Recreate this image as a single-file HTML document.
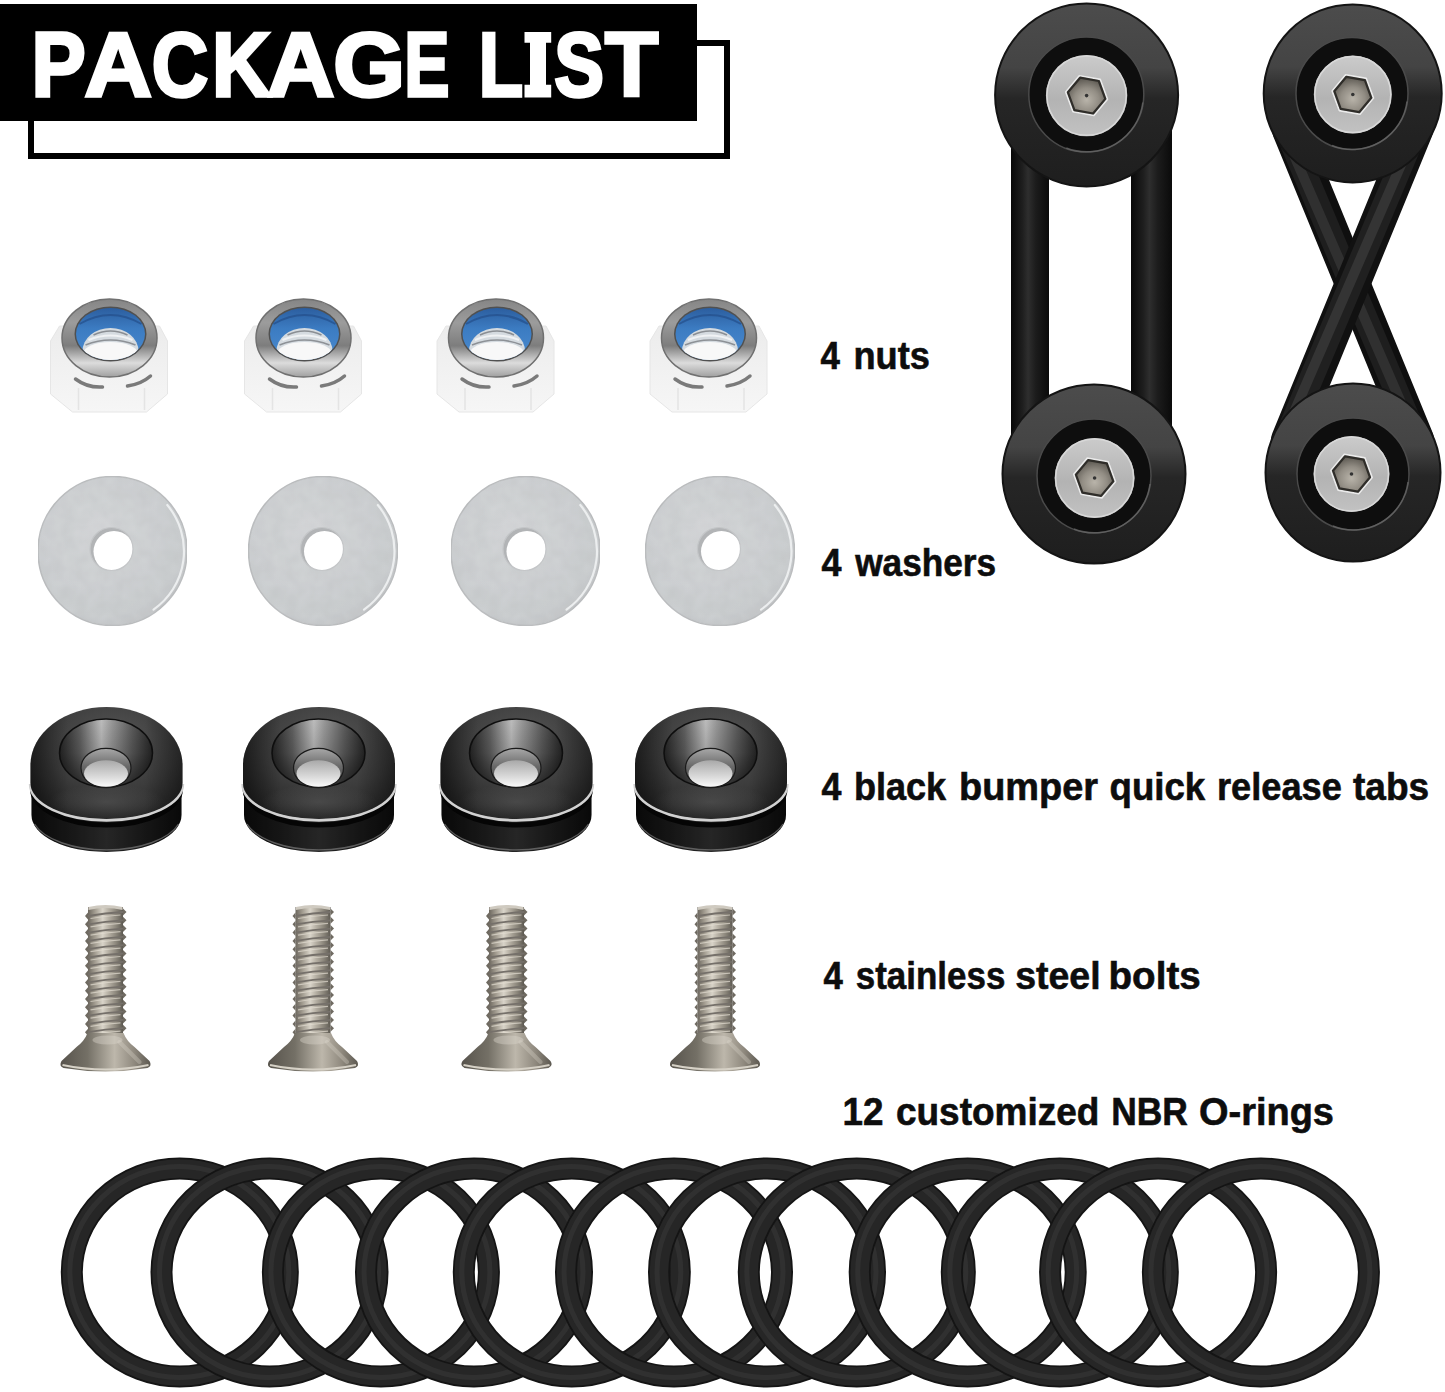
<!DOCTYPE html>
<html><head><meta charset="utf-8"><title>Package List</title>
<style>
html,body{margin:0;padding:0;background:#fff;}
body{width:1445px;height:1392px;overflow:hidden;font-family:"Liberation Sans", sans-serif;}
svg{display:block;}
</style></head><body>
<svg width="1445" height="1392" viewBox="0 0 1445 1392">
<rect width="1445" height="1392" fill="#fff"/>

<defs>
  <filter id="grain" x="0" y="0" width="100%" height="100%">
    <feTurbulence type="fractalNoise" baseFrequency="0.08" numOctaves="2" seed="3" result="n"/>
    <feColorMatrix in="n" type="matrix" values="0 0 0 0 0  0 0 0 0 0  0 0 0 0 0  0 0 0 0.10 0" result="na"/>
    <feComposite in="na" in2="SourceGraphic" operator="in" result="nm"/>
    <feMerge><feMergeNode in="SourceGraphic"/><feMergeNode in="nm"/></feMerge>
  </filter>
  <linearGradient id="nutRing" x1="0" y1="0" x2="0" y2="1">
    <stop offset="0" stop-color="#858585"/>
    <stop offset="0.3" stop-color="#9c9c9c"/>
    <stop offset="0.6" stop-color="#7d7d7d"/>
    <stop offset="0.82" stop-color="#dcdcdc"/>
    <stop offset="1" stop-color="#a0a0a0"/>
  </linearGradient>
  <linearGradient id="blue" x1="0" y1="0" x2="0" y2="1">
    <stop offset="0" stop-color="#2c5e9f"/>
    <stop offset="0.4" stop-color="#3c7cc2"/>
    <stop offset="1" stop-color="#4a8bcf"/>
  </linearGradient>
  <linearGradient id="hexBody" x1="0" y1="0" x2="0" y2="1">
    <stop offset="0" stop-color="#ececec"/>
    <stop offset="1" stop-color="#f6f6f6"/>
  </linearGradient>
  <radialGradient id="washer" cx="0.42" cy="0.38" r="0.7">
    <stop offset="0" stop-color="#d6d8da"/>
    <stop offset="0.8" stop-color="#cdd0d2"/>
    <stop offset="1" stop-color="#c4c6c8"/>
  </radialGradient>
  <linearGradient id="tabSide" x1="0" y1="0" x2="1" y2="0">
    <stop offset="0" stop-color="#0b0b0b"/>
    <stop offset="0.25" stop-color="#1c1c1c"/>
    <stop offset="0.5" stop-color="#303030"/>
    <stop offset="0.75" stop-color="#1c1c1c"/>
    <stop offset="1" stop-color="#0b0b0b"/>
  </linearGradient>
  <linearGradient id="tabFace" x1="0" y1="0" x2="0" y2="1">
    <stop offset="0" stop-color="#454545"/>
    <stop offset="0.45" stop-color="#2b2b2b"/>
    <stop offset="1" stop-color="#222"/>
  </linearGradient>
  <linearGradient id="tabFaceH" x1="0" y1="0" x2="1" y2="0">
    <stop offset="0" stop-color="#000" stop-opacity="0.45"/>
    <stop offset="0.25" stop-color="#000" stop-opacity="0"/>
    <stop offset="0.75" stop-color="#000" stop-opacity="0"/>
    <stop offset="1" stop-color="#000" stop-opacity="0.4"/>
  </linearGradient>
  <radialGradient id="tabTop" cx="0.55" cy="0.3" r="0.8">
    <stop offset="0" stop-color="#555"/>
    <stop offset="0.55" stop-color="#3c3c3c"/>
    <stop offset="1" stop-color="#1e1e1e"/>
  </radialGradient>
  <radialGradient id="frontGlow" cx="0.5" cy="0.5" r="0.5">
    <stop offset="0" stop-color="#5a5a5a" stop-opacity="0.55"/>
    <stop offset="1" stop-color="#5a5a5a" stop-opacity="0"/>
  </radialGradient>
  <linearGradient id="csink" x1="0" y1="0" x2="1" y2="0">
    <stop offset="0" stop-color="#262626"/>
    <stop offset="0.22" stop-color="#606060"/>
    <stop offset="0.45" stop-color="#bdbdbd"/>
    <stop offset="0.56" stop-color="#999"/>
    <stop offset="0.78" stop-color="#5c5c5c"/>
    <stop offset="1" stop-color="#262626"/>
  </linearGradient>
  <linearGradient id="csinkV" x1="0" y1="0" x2="0" y2="1">
    <stop offset="0" stop-color="#000" stop-opacity="0"/>
    <stop offset="0.5" stop-color="#000" stop-opacity="0.15"/>
    <stop offset="1" stop-color="#000" stop-opacity="0.6"/>
  </linearGradient>
  <linearGradient id="holeRim" x1="0" y1="0" x2="0" y2="1">
    <stop offset="0" stop-color="#a8a8a8"/>
    <stop offset="0.45" stop-color="#6a6a6a"/>
    <stop offset="1" stop-color="#3a3a3a"/>
  </linearGradient>
  <linearGradient id="thru" x1="0" y1="0" x2="0" y2="1">
    <stop offset="0" stop-color="#a9a9a9"/>
    <stop offset="0.6" stop-color="#d8d8d8"/>
    <stop offset="1" stop-color="#fafafa"/>
  </linearGradient>
  <linearGradient id="boltShaft" x1="0" y1="0" x2="1" y2="0">
    <stop offset="0" stop-color="#6c675e"/>
    <stop offset="0.2" stop-color="#a29c90"/>
    <stop offset="0.42" stop-color="#d9d4c9"/>
    <stop offset="0.6" stop-color="#b3ada1"/>
    <stop offset="0.8" stop-color="#8c877c"/>
    <stop offset="1" stop-color="#5e5a52"/>
  </linearGradient>
  <linearGradient id="boltHead" x1="0" y1="0" x2="1" y2="0">
    <stop offset="0" stop-color="#57534c"/>
    <stop offset="0.3" stop-color="#747066"/>
    <stop offset="0.6" stop-color="#bdb7ab"/>
    <stop offset="0.82" stop-color="#8f897e"/>
    <stop offset="1" stop-color="#5c5850"/>
  </linearGradient>
  <linearGradient id="discFace" x1="0" y1="0" x2="0" y2="1">
    <stop offset="0" stop-color="#4c4c4c"/>
    <stop offset="0.35" stop-color="#444"/>
    <stop offset="0.52" stop-color="#262626"/>
    <stop offset="0.75" stop-color="#222"/>
    <stop offset="1" stop-color="#1e1e1e"/>
  </linearGradient>
  <linearGradient id="head" x1="0" y1="0" x2="0" y2="1">
    <stop offset="0" stop-color="#cbcbcb"/>
    <stop offset="0.55" stop-color="#b3b3b3"/>
    <stop offset="1" stop-color="#c2c2c2"/>
  </linearGradient>
  <radialGradient id="socket" cx="0.5" cy="0.62" r="0.6">
    <stop offset="0" stop-color="#b9b4aa"/>
    <stop offset="0.55" stop-color="#928d84"/>
    <stop offset="1" stop-color="#5e5a53"/>
  </radialGradient>
  <linearGradient id="strandV" x1="0" y1="0" x2="1" y2="0">
    <stop offset="0" stop-color="#080808"/>
    <stop offset="0.3" stop-color="#1e1e1e"/>
    <stop offset="0.45" stop-color="#2e2e2e"/>
    <stop offset="0.65" stop-color="#1c1c1c"/>
    <stop offset="1" stop-color="#0a0a0a"/>
  </linearGradient>
<clipPath id="nutIn"><ellipse cx="1" cy="-4" rx="34.5" ry="26"/></clipPath>
<clipPath id="wHole"><circle cx="-1" cy="-2" r="21.5"/></clipPath>
</defs>
<rect x="31" y="43" width="696" height="113" fill="none" stroke="#000" stroke-width="6"/><rect x="0" y="4" width="697" height="117" fill="#000"/><text transform="translate(31.43,95.8) scale(0.9007,1)" x="0" y="0" font-family="Liberation Sans" font-weight="bold" font-size="90.3" fill="#fff" stroke="#fff" stroke-width="3.4">P</text><text transform="translate(84.47,95.8) scale(1.0331,1)" x="0" y="0" font-family="Liberation Sans" font-weight="bold" font-size="90.3" fill="#fff" stroke="#fff" stroke-width="3.4">A</text><text transform="translate(151.65,95.8) scale(0.8664,1)" x="0" y="0" font-family="Liberation Sans" font-weight="bold" font-size="90.3" fill="#fff" stroke="#fff" stroke-width="3.4">C</text><text transform="translate(211.93,95.8) scale(0.9022,1)" x="0" y="0" font-family="Liberation Sans" font-weight="bold" font-size="90.3" fill="#fff" stroke="#fff" stroke-width="3.4">K</text><text transform="translate(267.07,95.8) scale(1.0346,1)" x="0" y="0" font-family="Liberation Sans" font-weight="bold" font-size="90.3" fill="#fff" stroke="#fff" stroke-width="3.4">A</text><text transform="translate(333.23,95.8) scale(1.0220,1)" x="0" y="0" font-family="Liberation Sans" font-weight="bold" font-size="90.3" fill="#fff" stroke="#fff" stroke-width="3.4">G</text><text transform="translate(404.21,95.8) scale(0.7508,1)" x="0" y="0" font-family="Liberation Sans" font-weight="bold" font-size="90.3" fill="#fff" stroke="#fff" stroke-width="3.4">E</text><text transform="translate(478.87,95.8) scale(0.8039,1)" x="0" y="0" font-family="Liberation Sans" font-weight="bold" font-size="90.3" fill="#fff" stroke="#fff" stroke-width="3.4">L</text><text transform="translate(554.25,95.8) scale(0.8262,1)" x="0" y="0" font-family="Liberation Sans" font-weight="bold" font-size="90.3" fill="#fff" stroke="#fff" stroke-width="3.4">S</text><text transform="translate(605.00,95.8) scale(0.9658,1)" x="0" y="0" font-family="Liberation Sans" font-weight="bold" font-size="90.3" fill="#fff" stroke="#fff" stroke-width="3.4">T</text><path d="M524.5,32 H551.2 V42.8 H546 V84.8 H551.2 V97.4 H524.5 V84.8 H530 V42.8 H524.5 Z" fill="#fff"/><text transform="translate(820.40,369.0) scale(0.9187,1)" x="0" y="0" font-family="Liberation Sans" font-weight="bold" font-size="38" fill="#0d0d0d" stroke="#0d0d0d" stroke-width="0.6">4</text><text transform="translate(853.49,369.0) scale(0.9528,1)" x="0" y="0" font-family="Liberation Sans" font-weight="bold" font-size="38" fill="#0d0d0d" stroke="#0d0d0d" stroke-width="0.6">nuts</text><text transform="translate(821.40,575.6) scale(0.9464,1)" x="0" y="0" font-family="Liberation Sans" font-weight="bold" font-size="38" fill="#0d0d0d" stroke="#0d0d0d" stroke-width="0.6">4</text><text transform="translate(855.20,575.6) scale(0.9270,1)" x="0" y="0" font-family="Liberation Sans" font-weight="bold" font-size="38" fill="#0d0d0d" stroke="#0d0d0d" stroke-width="0.6">washers</text><text transform="translate(821.40,800.4) scale(0.9418,1)" x="0" y="0" font-family="Liberation Sans" font-weight="bold" font-size="38" fill="#0d0d0d" stroke="#0d0d0d" stroke-width="0.6">4</text><text transform="translate(854.00,800.4) scale(0.9486,1)" x="0" y="0" font-family="Liberation Sans" font-weight="bold" font-size="38" fill="#0d0d0d" stroke="#0d0d0d" stroke-width="0.6">black</text><text transform="translate(959.00,800.4) scale(0.9981,1)" x="0" y="0" font-family="Liberation Sans" font-weight="bold" font-size="38" fill="#0d0d0d" stroke="#0d0d0d" stroke-width="0.6">bumper</text><text transform="translate(1109.50,800.4) scale(0.9646,1)" x="0" y="0" font-family="Liberation Sans" font-weight="bold" font-size="38" fill="#0d0d0d" stroke="#0d0d0d" stroke-width="0.6">quick</text><text transform="translate(1216.99,800.4) scale(0.9530,1)" x="0" y="0" font-family="Liberation Sans" font-weight="bold" font-size="38" fill="#0d0d0d" stroke="#0d0d0d" stroke-width="0.6">release</text><text transform="translate(1353.00,800.4) scale(0.9749,1)" x="0" y="0" font-family="Liberation Sans" font-weight="bold" font-size="38" fill="#0d0d0d" stroke="#0d0d0d" stroke-width="0.6">tabs</text><text transform="translate(823.50,989.1) scale(0.9141,1)" x="0" y="0" font-family="Liberation Sans" font-weight="bold" font-size="38" fill="#0d0d0d" stroke="#0d0d0d" stroke-width="0.6">4</text><text transform="translate(855.80,989.1) scale(0.9195,1)" x="0" y="0" font-family="Liberation Sans" font-weight="bold" font-size="38" fill="#0d0d0d" stroke="#0d0d0d" stroke-width="0.6">stainless</text><text transform="translate(1015.25,989.1) scale(0.9856,1)" x="0" y="0" font-family="Liberation Sans" font-weight="bold" font-size="38" fill="#0d0d0d" stroke="#0d0d0d" stroke-width="0.6">steel</text><text transform="translate(1108.57,989.1) scale(1.0150,1)" x="0" y="0" font-family="Liberation Sans" font-weight="bold" font-size="38" fill="#0d0d0d" stroke="#0d0d0d" stroke-width="0.6">bolts</text><text transform="translate(842.46,1124.6) scale(0.9691,1)" x="0" y="0" font-family="Liberation Sans" font-weight="bold" font-size="38" fill="#0d0d0d" stroke="#0d0d0d" stroke-width="0.6">12</text><text transform="translate(895.96,1124.6) scale(0.9732,1)" x="0" y="0" font-family="Liberation Sans" font-weight="bold" font-size="38" fill="#0d0d0d" stroke="#0d0d0d" stroke-width="0.6">customized</text><text transform="translate(1111.13,1124.6) scale(0.9322,1)" x="0" y="0" font-family="Liberation Sans" font-weight="bold" font-size="38" fill="#0d0d0d" stroke="#0d0d0d" stroke-width="0.6">NBR</text><text transform="translate(1199.06,1124.6) scale(0.9985,1)" x="0" y="0" font-family="Liberation Sans" font-weight="bold" font-size="38" fill="#0d0d0d" stroke="#0d0d0d" stroke-width="0.6">O-rings</text><g transform="translate(109.5,338)"><path d="M-59,3 L-50,-12 L50,-12 L58,3 L58,56 L37,74 L-37,74 L-59,56 Z" fill="url(#hexBody)" stroke="#e6e6e6" stroke-width="1"/><path d="M-31,50 L-31,72 M35,50 L35,72" stroke="#e4e4e4" stroke-width="1.5"/><path d="M-34,41 Q-22,50 -7,49" fill="none" stroke="#7a7a7a" stroke-width="3.5" stroke-linecap="round"/><path d="M18,48 Q32,46 41,38" fill="none" stroke="#7a7a7a" stroke-width="3.5" stroke-linecap="round"/><ellipse cx="0" cy="0" rx="47.5" ry="39" fill="url(#nutRing)" stroke="#707070" stroke-width="1.5"/><ellipse cx="1" cy="-4" rx="36" ry="27.5" fill="#505050"/><ellipse cx="1" cy="-4" rx="34.5" ry="26" fill="url(#blue)"/><g clip-path="url(#nutIn)"><ellipse cx="1" cy="13" rx="28" ry="23" fill="#d5dbe0"/><path d="M-16,-3 Q1,-11 18,-3" fill="none" stroke="#8a8e93" stroke-width="1.6"/><path d="M-21,2 Q1,-7 23,2" fill="none" stroke="#f0f2f4" stroke-width="2"/><path d="M-24,7 Q1,-3 26,7" fill="none" stroke="#8d9196" stroke-width="1.6"/><ellipse cx="1" cy="15" rx="27" ry="11" fill="#f8f8f8"/></g><path d="M-30,-14 Q1,-32 32,-14" fill="none" stroke="#234f8a" stroke-width="2" opacity="0.7"/></g><g transform="translate(303.5,338)"><path d="M-59,3 L-50,-12 L50,-12 L58,3 L58,56 L37,74 L-37,74 L-59,56 Z" fill="url(#hexBody)" stroke="#e6e6e6" stroke-width="1"/><path d="M-31,50 L-31,72 M35,50 L35,72" stroke="#e4e4e4" stroke-width="1.5"/><path d="M-34,41 Q-22,50 -7,49" fill="none" stroke="#7a7a7a" stroke-width="3.5" stroke-linecap="round"/><path d="M18,48 Q32,46 41,38" fill="none" stroke="#7a7a7a" stroke-width="3.5" stroke-linecap="round"/><ellipse cx="0" cy="0" rx="47.5" ry="39" fill="url(#nutRing)" stroke="#707070" stroke-width="1.5"/><ellipse cx="1" cy="-4" rx="36" ry="27.5" fill="#505050"/><ellipse cx="1" cy="-4" rx="34.5" ry="26" fill="url(#blue)"/><g clip-path="url(#nutIn)"><ellipse cx="1" cy="13" rx="28" ry="23" fill="#d5dbe0"/><path d="M-16,-3 Q1,-11 18,-3" fill="none" stroke="#8a8e93" stroke-width="1.6"/><path d="M-21,2 Q1,-7 23,2" fill="none" stroke="#f0f2f4" stroke-width="2"/><path d="M-24,7 Q1,-3 26,7" fill="none" stroke="#8d9196" stroke-width="1.6"/><ellipse cx="1" cy="15" rx="27" ry="11" fill="#f8f8f8"/></g><path d="M-30,-14 Q1,-32 32,-14" fill="none" stroke="#234f8a" stroke-width="2" opacity="0.7"/></g><g transform="translate(496,338)"><path d="M-59,3 L-50,-12 L50,-12 L58,3 L58,56 L37,74 L-37,74 L-59,56 Z" fill="url(#hexBody)" stroke="#e6e6e6" stroke-width="1"/><path d="M-31,50 L-31,72 M35,50 L35,72" stroke="#e4e4e4" stroke-width="1.5"/><path d="M-34,41 Q-22,50 -7,49" fill="none" stroke="#7a7a7a" stroke-width="3.5" stroke-linecap="round"/><path d="M18,48 Q32,46 41,38" fill="none" stroke="#7a7a7a" stroke-width="3.5" stroke-linecap="round"/><ellipse cx="0" cy="0" rx="47.5" ry="39" fill="url(#nutRing)" stroke="#707070" stroke-width="1.5"/><ellipse cx="1" cy="-4" rx="36" ry="27.5" fill="#505050"/><ellipse cx="1" cy="-4" rx="34.5" ry="26" fill="url(#blue)"/><g clip-path="url(#nutIn)"><ellipse cx="1" cy="13" rx="28" ry="23" fill="#d5dbe0"/><path d="M-16,-3 Q1,-11 18,-3" fill="none" stroke="#8a8e93" stroke-width="1.6"/><path d="M-21,2 Q1,-7 23,2" fill="none" stroke="#f0f2f4" stroke-width="2"/><path d="M-24,7 Q1,-3 26,7" fill="none" stroke="#8d9196" stroke-width="1.6"/><ellipse cx="1" cy="15" rx="27" ry="11" fill="#f8f8f8"/></g><path d="M-30,-14 Q1,-32 32,-14" fill="none" stroke="#234f8a" stroke-width="2" opacity="0.7"/></g><g transform="translate(709,338)"><path d="M-59,3 L-50,-12 L50,-12 L58,3 L58,56 L37,74 L-37,74 L-59,56 Z" fill="url(#hexBody)" stroke="#e6e6e6" stroke-width="1"/><path d="M-31,50 L-31,72 M35,50 L35,72" stroke="#e4e4e4" stroke-width="1.5"/><path d="M-34,41 Q-22,50 -7,49" fill="none" stroke="#7a7a7a" stroke-width="3.5" stroke-linecap="round"/><path d="M18,48 Q32,46 41,38" fill="none" stroke="#7a7a7a" stroke-width="3.5" stroke-linecap="round"/><ellipse cx="0" cy="0" rx="47.5" ry="39" fill="url(#nutRing)" stroke="#707070" stroke-width="1.5"/><ellipse cx="1" cy="-4" rx="36" ry="27.5" fill="#505050"/><ellipse cx="1" cy="-4" rx="34.5" ry="26" fill="url(#blue)"/><g clip-path="url(#nutIn)"><ellipse cx="1" cy="13" rx="28" ry="23" fill="#d5dbe0"/><path d="M-16,-3 Q1,-11 18,-3" fill="none" stroke="#8a8e93" stroke-width="1.6"/><path d="M-21,2 Q1,-7 23,2" fill="none" stroke="#f0f2f4" stroke-width="2"/><path d="M-24,7 Q1,-3 26,7" fill="none" stroke="#8d9196" stroke-width="1.6"/><ellipse cx="1" cy="15" rx="27" ry="11" fill="#f8f8f8"/></g><path d="M-30,-14 Q1,-32 32,-14" fill="none" stroke="#234f8a" stroke-width="2" opacity="0.7"/></g><g transform="translate(112.5,551)"><g filter="url(#grain)"><circle cx="0" cy="0" r="74.5" fill="url(#washer)" stroke="#bfc1c3" stroke-width="1.5"/></g><path d="M54.77,-45.96 A71.5,71.5 0 0,1 41.01,58.57" fill="none" stroke="#eceeef" stroke-width="2.2" stroke-linecap="round"/><g clip-path="url(#wHole)"><rect x="-25" y="-26" width="50" height="50" fill="#b2b4b6"/><circle cx="1.5" cy="0.5" r="20.5" fill="#fff"/></g><circle cx="-1" cy="-2" r="21.5" fill="none" stroke="#c4c6c8" stroke-width="1.2"/></g><g transform="translate(323,551)"><g filter="url(#grain)"><circle cx="0" cy="0" r="74.5" fill="url(#washer)" stroke="#bfc1c3" stroke-width="1.5"/></g><path d="M54.77,-45.96 A71.5,71.5 0 0,1 41.01,58.57" fill="none" stroke="#eceeef" stroke-width="2.2" stroke-linecap="round"/><g clip-path="url(#wHole)"><rect x="-25" y="-26" width="50" height="50" fill="#b2b4b6"/><circle cx="1.5" cy="0.5" r="20.5" fill="#fff"/></g><circle cx="-1" cy="-2" r="21.5" fill="none" stroke="#c4c6c8" stroke-width="1.2"/></g><g transform="translate(525.5,551)"><g filter="url(#grain)"><circle cx="0" cy="0" r="74.5" fill="url(#washer)" stroke="#bfc1c3" stroke-width="1.5"/></g><path d="M54.77,-45.96 A71.5,71.5 0 0,1 41.01,58.57" fill="none" stroke="#eceeef" stroke-width="2.2" stroke-linecap="round"/><g clip-path="url(#wHole)"><rect x="-25" y="-26" width="50" height="50" fill="#b2b4b6"/><circle cx="1.5" cy="0.5" r="20.5" fill="#fff"/></g><circle cx="-1" cy="-2" r="21.5" fill="none" stroke="#c4c6c8" stroke-width="1.2"/></g><g transform="translate(720,551)"><g filter="url(#grain)"><circle cx="0" cy="0" r="74.5" fill="url(#washer)" stroke="#bfc1c3" stroke-width="1.5"/></g><path d="M54.77,-45.96 A71.5,71.5 0 0,1 41.01,58.57" fill="none" stroke="#eceeef" stroke-width="2.2" stroke-linecap="round"/><g clip-path="url(#wHole)"><rect x="-25" y="-26" width="50" height="50" fill="#b2b4b6"/><circle cx="1.5" cy="0.5" r="20.5" fill="#fff"/></g><circle cx="-1" cy="-2" r="21.5" fill="none" stroke="#c4c6c8" stroke-width="1.2"/></g><g transform="translate(106.5,0)"><path d="M-75,787 L75,787 L75,815 A75,37 0 0,1 -75,815 Z" fill="url(#tabSide)"/><path d="M-75,787 L75,787 L75,815 A75,37 0 0,1 -75,815 Z" fill="#000" opacity="0.2"/><path d="M-72,824 A75,36 0 0,0 72,824" fill="none" stroke="#7a7a7a" stroke-width="1.4" opacity="0.7"/><path d="M-74,789 A74,36 0 0,0 74,789" fill="none" stroke="#050505" stroke-width="5"/><path d="M-76,784 A76,36 0 0,0 76,784" fill="none" stroke="#d2d2d2" stroke-width="3.4"/><path d="M-76,765 A76,58 0 0,1 76,765 L76,783 A76,36 0 0,1 -76,783 Z" fill="url(#tabTop)"/><path d="M-76,765 A76,58 0 0,1 76,765 L76,783 A76,36 0 0,1 -76,783 Z" fill="url(#tabFaceH)"/><ellipse cx="0" cy="802" rx="58" ry="18" fill="url(#frontGlow)"/><ellipse cx="-0.5" cy="753" rx="46.5" ry="34" fill="url(#csink)"/><ellipse cx="-0.5" cy="753" rx="46.5" ry="34" fill="url(#csinkV)" stroke="#0e0e0e" stroke-width="1.5"/><ellipse cx="-0.5" cy="768" rx="25" ry="19.7" fill="url(#holeRim)" stroke="#1a1a1a" stroke-width="1.2"/><ellipse cx="-0.5" cy="773.5" rx="22" ry="13.2" fill="url(#thru)"/></g><g transform="translate(319,0)"><path d="M-75,787 L75,787 L75,815 A75,37 0 0,1 -75,815 Z" fill="url(#tabSide)"/><path d="M-75,787 L75,787 L75,815 A75,37 0 0,1 -75,815 Z" fill="#000" opacity="0.2"/><path d="M-72,824 A75,36 0 0,0 72,824" fill="none" stroke="#7a7a7a" stroke-width="1.4" opacity="0.7"/><path d="M-74,789 A74,36 0 0,0 74,789" fill="none" stroke="#050505" stroke-width="5"/><path d="M-76,784 A76,36 0 0,0 76,784" fill="none" stroke="#d2d2d2" stroke-width="3.4"/><path d="M-76,765 A76,58 0 0,1 76,765 L76,783 A76,36 0 0,1 -76,783 Z" fill="url(#tabTop)"/><path d="M-76,765 A76,58 0 0,1 76,765 L76,783 A76,36 0 0,1 -76,783 Z" fill="url(#tabFaceH)"/><ellipse cx="0" cy="802" rx="58" ry="18" fill="url(#frontGlow)"/><ellipse cx="-0.5" cy="753" rx="46.5" ry="34" fill="url(#csink)"/><ellipse cx="-0.5" cy="753" rx="46.5" ry="34" fill="url(#csinkV)" stroke="#0e0e0e" stroke-width="1.5"/><ellipse cx="-0.5" cy="768" rx="25" ry="19.7" fill="url(#holeRim)" stroke="#1a1a1a" stroke-width="1.2"/><ellipse cx="-0.5" cy="773.5" rx="22" ry="13.2" fill="url(#thru)"/></g><g transform="translate(516.5,0)"><path d="M-75,787 L75,787 L75,815 A75,37 0 0,1 -75,815 Z" fill="url(#tabSide)"/><path d="M-75,787 L75,787 L75,815 A75,37 0 0,1 -75,815 Z" fill="#000" opacity="0.2"/><path d="M-72,824 A75,36 0 0,0 72,824" fill="none" stroke="#7a7a7a" stroke-width="1.4" opacity="0.7"/><path d="M-74,789 A74,36 0 0,0 74,789" fill="none" stroke="#050505" stroke-width="5"/><path d="M-76,784 A76,36 0 0,0 76,784" fill="none" stroke="#d2d2d2" stroke-width="3.4"/><path d="M-76,765 A76,58 0 0,1 76,765 L76,783 A76,36 0 0,1 -76,783 Z" fill="url(#tabTop)"/><path d="M-76,765 A76,58 0 0,1 76,765 L76,783 A76,36 0 0,1 -76,783 Z" fill="url(#tabFaceH)"/><ellipse cx="0" cy="802" rx="58" ry="18" fill="url(#frontGlow)"/><ellipse cx="-0.5" cy="753" rx="46.5" ry="34" fill="url(#csink)"/><ellipse cx="-0.5" cy="753" rx="46.5" ry="34" fill="url(#csinkV)" stroke="#0e0e0e" stroke-width="1.5"/><ellipse cx="-0.5" cy="768" rx="25" ry="19.7" fill="url(#holeRim)" stroke="#1a1a1a" stroke-width="1.2"/><ellipse cx="-0.5" cy="773.5" rx="22" ry="13.2" fill="url(#thru)"/></g><g transform="translate(711,0)"><path d="M-75,787 L75,787 L75,815 A75,37 0 0,1 -75,815 Z" fill="url(#tabSide)"/><path d="M-75,787 L75,787 L75,815 A75,37 0 0,1 -75,815 Z" fill="#000" opacity="0.2"/><path d="M-72,824 A75,36 0 0,0 72,824" fill="none" stroke="#7a7a7a" stroke-width="1.4" opacity="0.7"/><path d="M-74,789 A74,36 0 0,0 74,789" fill="none" stroke="#050505" stroke-width="5"/><path d="M-76,784 A76,36 0 0,0 76,784" fill="none" stroke="#d2d2d2" stroke-width="3.4"/><path d="M-76,765 A76,58 0 0,1 76,765 L76,783 A76,36 0 0,1 -76,783 Z" fill="url(#tabTop)"/><path d="M-76,765 A76,58 0 0,1 76,765 L76,783 A76,36 0 0,1 -76,783 Z" fill="url(#tabFaceH)"/><ellipse cx="0" cy="802" rx="58" ry="18" fill="url(#frontGlow)"/><ellipse cx="-0.5" cy="753" rx="46.5" ry="34" fill="url(#csink)"/><ellipse cx="-0.5" cy="753" rx="46.5" ry="34" fill="url(#csinkV)" stroke="#0e0e0e" stroke-width="1.5"/><ellipse cx="-0.5" cy="768" rx="25" ry="19.7" fill="url(#holeRim)" stroke="#1a1a1a" stroke-width="1.2"/><ellipse cx="-0.5" cy="773.5" rx="22" ry="13.2" fill="url(#thru)"/></g><g transform="translate(105.5,0)"><rect x="-17.5" y="907" width="35" height="130" fill="url(#boltShaft)"/><path d="M17.5,908.5 L21,912.0 L17.5,915.5 Z" fill="#6f6a61"/><path d="M-17.5,912.5 L-20.5,916.0 L-17.5,919.5 Z" fill="#6f6a61"/><path d="M-17.5,916.0 Q0,913.0 17.5,912.0" fill="none" stroke="#75706a" stroke-width="1.8"/><path d="M-15,918.5 Q0,916.0 15,915.0" fill="none" stroke="#e2ddd2" stroke-width="1.2" opacity="0.7"/><path d="M17.5,916.8 L21,920.3 L17.5,923.8 Z" fill="#6f6a61"/><path d="M-17.5,920.8 L-20.5,924.3 L-17.5,927.8 Z" fill="#6f6a61"/><path d="M-17.5,924.3 Q0,921.3 17.5,920.3" fill="none" stroke="#75706a" stroke-width="1.8"/><path d="M-15,926.8 Q0,924.3 15,923.3" fill="none" stroke="#e2ddd2" stroke-width="1.2" opacity="0.7"/><path d="M17.5,925.1 L21,928.6 L17.5,932.1 Z" fill="#6f6a61"/><path d="M-17.5,929.1 L-20.5,932.6 L-17.5,936.1 Z" fill="#6f6a61"/><path d="M-17.5,932.6 Q0,929.6 17.5,928.6" fill="none" stroke="#75706a" stroke-width="1.8"/><path d="M-15,935.1 Q0,932.6 15,931.6" fill="none" stroke="#e2ddd2" stroke-width="1.2" opacity="0.7"/><path d="M17.5,933.4 L21,936.9 L17.5,940.4 Z" fill="#6f6a61"/><path d="M-17.5,937.4 L-20.5,940.9 L-17.5,944.4 Z" fill="#6f6a61"/><path d="M-17.5,940.9 Q0,937.9 17.5,936.9" fill="none" stroke="#75706a" stroke-width="1.8"/><path d="M-15,943.4 Q0,940.9 15,939.9" fill="none" stroke="#e2ddd2" stroke-width="1.2" opacity="0.7"/><path d="M17.5,941.7 L21,945.2 L17.5,948.7 Z" fill="#6f6a61"/><path d="M-17.5,945.7 L-20.5,949.2 L-17.5,952.7 Z" fill="#6f6a61"/><path d="M-17.5,949.2 Q0,946.2 17.5,945.2" fill="none" stroke="#75706a" stroke-width="1.8"/><path d="M-15,951.7 Q0,949.2 15,948.2" fill="none" stroke="#e2ddd2" stroke-width="1.2" opacity="0.7"/><path d="M17.5,950.0 L21,953.5 L17.5,957.0 Z" fill="#6f6a61"/><path d="M-17.5,954.0 L-20.5,957.5 L-17.5,961.0 Z" fill="#6f6a61"/><path d="M-17.5,957.5 Q0,954.5 17.5,953.5" fill="none" stroke="#75706a" stroke-width="1.8"/><path d="M-15,960.0 Q0,957.5 15,956.5" fill="none" stroke="#e2ddd2" stroke-width="1.2" opacity="0.7"/><path d="M17.5,958.3 L21,961.8 L17.5,965.3 Z" fill="#6f6a61"/><path d="M-17.5,962.3 L-20.5,965.8 L-17.5,969.3 Z" fill="#6f6a61"/><path d="M-17.5,965.8 Q0,962.8 17.5,961.8" fill="none" stroke="#75706a" stroke-width="1.8"/><path d="M-15,968.3 Q0,965.8 15,964.8" fill="none" stroke="#e2ddd2" stroke-width="1.2" opacity="0.7"/><path d="M17.5,966.6 L21,970.1 L17.5,973.6 Z" fill="#6f6a61"/><path d="M-17.5,970.6 L-20.5,974.1 L-17.5,977.6 Z" fill="#6f6a61"/><path d="M-17.5,974.1 Q0,971.1 17.5,970.1" fill="none" stroke="#75706a" stroke-width="1.8"/><path d="M-15,976.6 Q0,974.1 15,973.1" fill="none" stroke="#e2ddd2" stroke-width="1.2" opacity="0.7"/><path d="M17.5,974.9 L21,978.4 L17.5,981.9 Z" fill="#6f6a61"/><path d="M-17.5,978.9 L-20.5,982.4 L-17.5,985.9 Z" fill="#6f6a61"/><path d="M-17.5,982.4 Q0,979.4 17.5,978.4" fill="none" stroke="#75706a" stroke-width="1.8"/><path d="M-15,984.9 Q0,982.4 15,981.4" fill="none" stroke="#e2ddd2" stroke-width="1.2" opacity="0.7"/><path d="M17.5,983.2 L21,986.7 L17.5,990.2 Z" fill="#6f6a61"/><path d="M-17.5,987.2 L-20.5,990.7 L-17.5,994.2 Z" fill="#6f6a61"/><path d="M-17.5,990.7 Q0,987.7 17.5,986.7" fill="none" stroke="#75706a" stroke-width="1.8"/><path d="M-15,993.2 Q0,990.7 15,989.7" fill="none" stroke="#e2ddd2" stroke-width="1.2" opacity="0.7"/><path d="M17.5,991.5 L21,995.0 L17.5,998.5 Z" fill="#6f6a61"/><path d="M-17.5,995.5 L-20.5,999.0 L-17.5,1002.5 Z" fill="#6f6a61"/><path d="M-17.5,999.0 Q0,996.0 17.5,995.0" fill="none" stroke="#75706a" stroke-width="1.8"/><path d="M-15,1001.5 Q0,999.0 15,998.0" fill="none" stroke="#e2ddd2" stroke-width="1.2" opacity="0.7"/><path d="M17.5,999.8 L21,1003.3 L17.5,1006.8 Z" fill="#6f6a61"/><path d="M-17.5,1003.8 L-20.5,1007.3 L-17.5,1010.8 Z" fill="#6f6a61"/><path d="M-17.5,1007.3 Q0,1004.3 17.5,1003.3" fill="none" stroke="#75706a" stroke-width="1.8"/><path d="M-15,1009.8 Q0,1007.3 15,1006.3" fill="none" stroke="#e2ddd2" stroke-width="1.2" opacity="0.7"/><path d="M17.5,1008.1 L21,1011.6 L17.5,1015.1 Z" fill="#6f6a61"/><path d="M-17.5,1012.1 L-20.5,1015.6 L-17.5,1019.1 Z" fill="#6f6a61"/><path d="M-17.5,1015.6 Q0,1012.6 17.5,1011.6" fill="none" stroke="#75706a" stroke-width="1.8"/><path d="M-15,1018.1 Q0,1015.6 15,1014.6" fill="none" stroke="#e2ddd2" stroke-width="1.2" opacity="0.7"/><path d="M17.5,1016.4 L21,1019.9 L17.5,1023.4 Z" fill="#6f6a61"/><path d="M-17.5,1020.4 L-20.5,1023.9 L-17.5,1027.4 Z" fill="#6f6a61"/><path d="M-17.5,1023.9 Q0,1020.9 17.5,1019.9" fill="none" stroke="#75706a" stroke-width="1.8"/><path d="M-15,1026.4 Q0,1023.9 15,1022.9" fill="none" stroke="#e2ddd2" stroke-width="1.2" opacity="0.7"/><path d="M17.5,1024.7 L21,1028.2 L17.5,1031.7 Z" fill="#6f6a61"/><path d="M-17.5,1028.7 L-20.5,1032.2 L-17.5,1035.7 Z" fill="#6f6a61"/><path d="M-17.5,1032.2 Q0,1029.2 17.5,1028.2" fill="none" stroke="#75706a" stroke-width="1.8"/><path d="M-15,1034.7 Q0,1032.2 15,1031.2" fill="none" stroke="#e2ddd2" stroke-width="1.2" opacity="0.7"/><path d="M-17,907 Q0,903 17,907 L17,910 Q0,906 -17,910 Z" fill="#cfcac0"/><path d="M-18,1033 Q-21,1041 -29,1047 L-44,1061 Q-47,1066 -42,1068 Q0,1075 42,1068 Q47,1066 44,1061 L29,1047 Q21,1041 18,1033 Z" fill="url(#boltHead)"/><ellipse cx="2" cy="1040" rx="15" ry="4.5" fill="#ddd8cd" opacity="0.4"/><path d="M14,1042 L34,1062" stroke="#e0dbd0" stroke-width="4" opacity="0.3" stroke-linecap="round"/><path d="M-43,1065 Q0,1074 43,1065" fill="none" stroke="#d6d1c6" stroke-width="2.2"/></g><g transform="translate(313,0)"><rect x="-17.5" y="907" width="35" height="130" fill="url(#boltShaft)"/><path d="M17.5,908.5 L21,912.0 L17.5,915.5 Z" fill="#6f6a61"/><path d="M-17.5,912.5 L-20.5,916.0 L-17.5,919.5 Z" fill="#6f6a61"/><path d="M-17.5,916.0 Q0,913.0 17.5,912.0" fill="none" stroke="#75706a" stroke-width="1.8"/><path d="M-15,918.5 Q0,916.0 15,915.0" fill="none" stroke="#e2ddd2" stroke-width="1.2" opacity="0.7"/><path d="M17.5,916.8 L21,920.3 L17.5,923.8 Z" fill="#6f6a61"/><path d="M-17.5,920.8 L-20.5,924.3 L-17.5,927.8 Z" fill="#6f6a61"/><path d="M-17.5,924.3 Q0,921.3 17.5,920.3" fill="none" stroke="#75706a" stroke-width="1.8"/><path d="M-15,926.8 Q0,924.3 15,923.3" fill="none" stroke="#e2ddd2" stroke-width="1.2" opacity="0.7"/><path d="M17.5,925.1 L21,928.6 L17.5,932.1 Z" fill="#6f6a61"/><path d="M-17.5,929.1 L-20.5,932.6 L-17.5,936.1 Z" fill="#6f6a61"/><path d="M-17.5,932.6 Q0,929.6 17.5,928.6" fill="none" stroke="#75706a" stroke-width="1.8"/><path d="M-15,935.1 Q0,932.6 15,931.6" fill="none" stroke="#e2ddd2" stroke-width="1.2" opacity="0.7"/><path d="M17.5,933.4 L21,936.9 L17.5,940.4 Z" fill="#6f6a61"/><path d="M-17.5,937.4 L-20.5,940.9 L-17.5,944.4 Z" fill="#6f6a61"/><path d="M-17.5,940.9 Q0,937.9 17.5,936.9" fill="none" stroke="#75706a" stroke-width="1.8"/><path d="M-15,943.4 Q0,940.9 15,939.9" fill="none" stroke="#e2ddd2" stroke-width="1.2" opacity="0.7"/><path d="M17.5,941.7 L21,945.2 L17.5,948.7 Z" fill="#6f6a61"/><path d="M-17.5,945.7 L-20.5,949.2 L-17.5,952.7 Z" fill="#6f6a61"/><path d="M-17.5,949.2 Q0,946.2 17.5,945.2" fill="none" stroke="#75706a" stroke-width="1.8"/><path d="M-15,951.7 Q0,949.2 15,948.2" fill="none" stroke="#e2ddd2" stroke-width="1.2" opacity="0.7"/><path d="M17.5,950.0 L21,953.5 L17.5,957.0 Z" fill="#6f6a61"/><path d="M-17.5,954.0 L-20.5,957.5 L-17.5,961.0 Z" fill="#6f6a61"/><path d="M-17.5,957.5 Q0,954.5 17.5,953.5" fill="none" stroke="#75706a" stroke-width="1.8"/><path d="M-15,960.0 Q0,957.5 15,956.5" fill="none" stroke="#e2ddd2" stroke-width="1.2" opacity="0.7"/><path d="M17.5,958.3 L21,961.8 L17.5,965.3 Z" fill="#6f6a61"/><path d="M-17.5,962.3 L-20.5,965.8 L-17.5,969.3 Z" fill="#6f6a61"/><path d="M-17.5,965.8 Q0,962.8 17.5,961.8" fill="none" stroke="#75706a" stroke-width="1.8"/><path d="M-15,968.3 Q0,965.8 15,964.8" fill="none" stroke="#e2ddd2" stroke-width="1.2" opacity="0.7"/><path d="M17.5,966.6 L21,970.1 L17.5,973.6 Z" fill="#6f6a61"/><path d="M-17.5,970.6 L-20.5,974.1 L-17.5,977.6 Z" fill="#6f6a61"/><path d="M-17.5,974.1 Q0,971.1 17.5,970.1" fill="none" stroke="#75706a" stroke-width="1.8"/><path d="M-15,976.6 Q0,974.1 15,973.1" fill="none" stroke="#e2ddd2" stroke-width="1.2" opacity="0.7"/><path d="M17.5,974.9 L21,978.4 L17.5,981.9 Z" fill="#6f6a61"/><path d="M-17.5,978.9 L-20.5,982.4 L-17.5,985.9 Z" fill="#6f6a61"/><path d="M-17.5,982.4 Q0,979.4 17.5,978.4" fill="none" stroke="#75706a" stroke-width="1.8"/><path d="M-15,984.9 Q0,982.4 15,981.4" fill="none" stroke="#e2ddd2" stroke-width="1.2" opacity="0.7"/><path d="M17.5,983.2 L21,986.7 L17.5,990.2 Z" fill="#6f6a61"/><path d="M-17.5,987.2 L-20.5,990.7 L-17.5,994.2 Z" fill="#6f6a61"/><path d="M-17.5,990.7 Q0,987.7 17.5,986.7" fill="none" stroke="#75706a" stroke-width="1.8"/><path d="M-15,993.2 Q0,990.7 15,989.7" fill="none" stroke="#e2ddd2" stroke-width="1.2" opacity="0.7"/><path d="M17.5,991.5 L21,995.0 L17.5,998.5 Z" fill="#6f6a61"/><path d="M-17.5,995.5 L-20.5,999.0 L-17.5,1002.5 Z" fill="#6f6a61"/><path d="M-17.5,999.0 Q0,996.0 17.5,995.0" fill="none" stroke="#75706a" stroke-width="1.8"/><path d="M-15,1001.5 Q0,999.0 15,998.0" fill="none" stroke="#e2ddd2" stroke-width="1.2" opacity="0.7"/><path d="M17.5,999.8 L21,1003.3 L17.5,1006.8 Z" fill="#6f6a61"/><path d="M-17.5,1003.8 L-20.5,1007.3 L-17.5,1010.8 Z" fill="#6f6a61"/><path d="M-17.5,1007.3 Q0,1004.3 17.5,1003.3" fill="none" stroke="#75706a" stroke-width="1.8"/><path d="M-15,1009.8 Q0,1007.3 15,1006.3" fill="none" stroke="#e2ddd2" stroke-width="1.2" opacity="0.7"/><path d="M17.5,1008.1 L21,1011.6 L17.5,1015.1 Z" fill="#6f6a61"/><path d="M-17.5,1012.1 L-20.5,1015.6 L-17.5,1019.1 Z" fill="#6f6a61"/><path d="M-17.5,1015.6 Q0,1012.6 17.5,1011.6" fill="none" stroke="#75706a" stroke-width="1.8"/><path d="M-15,1018.1 Q0,1015.6 15,1014.6" fill="none" stroke="#e2ddd2" stroke-width="1.2" opacity="0.7"/><path d="M17.5,1016.4 L21,1019.9 L17.5,1023.4 Z" fill="#6f6a61"/><path d="M-17.5,1020.4 L-20.5,1023.9 L-17.5,1027.4 Z" fill="#6f6a61"/><path d="M-17.5,1023.9 Q0,1020.9 17.5,1019.9" fill="none" stroke="#75706a" stroke-width="1.8"/><path d="M-15,1026.4 Q0,1023.9 15,1022.9" fill="none" stroke="#e2ddd2" stroke-width="1.2" opacity="0.7"/><path d="M17.5,1024.7 L21,1028.2 L17.5,1031.7 Z" fill="#6f6a61"/><path d="M-17.5,1028.7 L-20.5,1032.2 L-17.5,1035.7 Z" fill="#6f6a61"/><path d="M-17.5,1032.2 Q0,1029.2 17.5,1028.2" fill="none" stroke="#75706a" stroke-width="1.8"/><path d="M-15,1034.7 Q0,1032.2 15,1031.2" fill="none" stroke="#e2ddd2" stroke-width="1.2" opacity="0.7"/><path d="M-17,907 Q0,903 17,907 L17,910 Q0,906 -17,910 Z" fill="#cfcac0"/><path d="M-18,1033 Q-21,1041 -29,1047 L-44,1061 Q-47,1066 -42,1068 Q0,1075 42,1068 Q47,1066 44,1061 L29,1047 Q21,1041 18,1033 Z" fill="url(#boltHead)"/><ellipse cx="2" cy="1040" rx="15" ry="4.5" fill="#ddd8cd" opacity="0.4"/><path d="M14,1042 L34,1062" stroke="#e0dbd0" stroke-width="4" opacity="0.3" stroke-linecap="round"/><path d="M-43,1065 Q0,1074 43,1065" fill="none" stroke="#d6d1c6" stroke-width="2.2"/></g><g transform="translate(506.5,0)"><rect x="-17.5" y="907" width="35" height="130" fill="url(#boltShaft)"/><path d="M17.5,908.5 L21,912.0 L17.5,915.5 Z" fill="#6f6a61"/><path d="M-17.5,912.5 L-20.5,916.0 L-17.5,919.5 Z" fill="#6f6a61"/><path d="M-17.5,916.0 Q0,913.0 17.5,912.0" fill="none" stroke="#75706a" stroke-width="1.8"/><path d="M-15,918.5 Q0,916.0 15,915.0" fill="none" stroke="#e2ddd2" stroke-width="1.2" opacity="0.7"/><path d="M17.5,916.8 L21,920.3 L17.5,923.8 Z" fill="#6f6a61"/><path d="M-17.5,920.8 L-20.5,924.3 L-17.5,927.8 Z" fill="#6f6a61"/><path d="M-17.5,924.3 Q0,921.3 17.5,920.3" fill="none" stroke="#75706a" stroke-width="1.8"/><path d="M-15,926.8 Q0,924.3 15,923.3" fill="none" stroke="#e2ddd2" stroke-width="1.2" opacity="0.7"/><path d="M17.5,925.1 L21,928.6 L17.5,932.1 Z" fill="#6f6a61"/><path d="M-17.5,929.1 L-20.5,932.6 L-17.5,936.1 Z" fill="#6f6a61"/><path d="M-17.5,932.6 Q0,929.6 17.5,928.6" fill="none" stroke="#75706a" stroke-width="1.8"/><path d="M-15,935.1 Q0,932.6 15,931.6" fill="none" stroke="#e2ddd2" stroke-width="1.2" opacity="0.7"/><path d="M17.5,933.4 L21,936.9 L17.5,940.4 Z" fill="#6f6a61"/><path d="M-17.5,937.4 L-20.5,940.9 L-17.5,944.4 Z" fill="#6f6a61"/><path d="M-17.5,940.9 Q0,937.9 17.5,936.9" fill="none" stroke="#75706a" stroke-width="1.8"/><path d="M-15,943.4 Q0,940.9 15,939.9" fill="none" stroke="#e2ddd2" stroke-width="1.2" opacity="0.7"/><path d="M17.5,941.7 L21,945.2 L17.5,948.7 Z" fill="#6f6a61"/><path d="M-17.5,945.7 L-20.5,949.2 L-17.5,952.7 Z" fill="#6f6a61"/><path d="M-17.5,949.2 Q0,946.2 17.5,945.2" fill="none" stroke="#75706a" stroke-width="1.8"/><path d="M-15,951.7 Q0,949.2 15,948.2" fill="none" stroke="#e2ddd2" stroke-width="1.2" opacity="0.7"/><path d="M17.5,950.0 L21,953.5 L17.5,957.0 Z" fill="#6f6a61"/><path d="M-17.5,954.0 L-20.5,957.5 L-17.5,961.0 Z" fill="#6f6a61"/><path d="M-17.5,957.5 Q0,954.5 17.5,953.5" fill="none" stroke="#75706a" stroke-width="1.8"/><path d="M-15,960.0 Q0,957.5 15,956.5" fill="none" stroke="#e2ddd2" stroke-width="1.2" opacity="0.7"/><path d="M17.5,958.3 L21,961.8 L17.5,965.3 Z" fill="#6f6a61"/><path d="M-17.5,962.3 L-20.5,965.8 L-17.5,969.3 Z" fill="#6f6a61"/><path d="M-17.5,965.8 Q0,962.8 17.5,961.8" fill="none" stroke="#75706a" stroke-width="1.8"/><path d="M-15,968.3 Q0,965.8 15,964.8" fill="none" stroke="#e2ddd2" stroke-width="1.2" opacity="0.7"/><path d="M17.5,966.6 L21,970.1 L17.5,973.6 Z" fill="#6f6a61"/><path d="M-17.5,970.6 L-20.5,974.1 L-17.5,977.6 Z" fill="#6f6a61"/><path d="M-17.5,974.1 Q0,971.1 17.5,970.1" fill="none" stroke="#75706a" stroke-width="1.8"/><path d="M-15,976.6 Q0,974.1 15,973.1" fill="none" stroke="#e2ddd2" stroke-width="1.2" opacity="0.7"/><path d="M17.5,974.9 L21,978.4 L17.5,981.9 Z" fill="#6f6a61"/><path d="M-17.5,978.9 L-20.5,982.4 L-17.5,985.9 Z" fill="#6f6a61"/><path d="M-17.5,982.4 Q0,979.4 17.5,978.4" fill="none" stroke="#75706a" stroke-width="1.8"/><path d="M-15,984.9 Q0,982.4 15,981.4" fill="none" stroke="#e2ddd2" stroke-width="1.2" opacity="0.7"/><path d="M17.5,983.2 L21,986.7 L17.5,990.2 Z" fill="#6f6a61"/><path d="M-17.5,987.2 L-20.5,990.7 L-17.5,994.2 Z" fill="#6f6a61"/><path d="M-17.5,990.7 Q0,987.7 17.5,986.7" fill="none" stroke="#75706a" stroke-width="1.8"/><path d="M-15,993.2 Q0,990.7 15,989.7" fill="none" stroke="#e2ddd2" stroke-width="1.2" opacity="0.7"/><path d="M17.5,991.5 L21,995.0 L17.5,998.5 Z" fill="#6f6a61"/><path d="M-17.5,995.5 L-20.5,999.0 L-17.5,1002.5 Z" fill="#6f6a61"/><path d="M-17.5,999.0 Q0,996.0 17.5,995.0" fill="none" stroke="#75706a" stroke-width="1.8"/><path d="M-15,1001.5 Q0,999.0 15,998.0" fill="none" stroke="#e2ddd2" stroke-width="1.2" opacity="0.7"/><path d="M17.5,999.8 L21,1003.3 L17.5,1006.8 Z" fill="#6f6a61"/><path d="M-17.5,1003.8 L-20.5,1007.3 L-17.5,1010.8 Z" fill="#6f6a61"/><path d="M-17.5,1007.3 Q0,1004.3 17.5,1003.3" fill="none" stroke="#75706a" stroke-width="1.8"/><path d="M-15,1009.8 Q0,1007.3 15,1006.3" fill="none" stroke="#e2ddd2" stroke-width="1.2" opacity="0.7"/><path d="M17.5,1008.1 L21,1011.6 L17.5,1015.1 Z" fill="#6f6a61"/><path d="M-17.5,1012.1 L-20.5,1015.6 L-17.5,1019.1 Z" fill="#6f6a61"/><path d="M-17.5,1015.6 Q0,1012.6 17.5,1011.6" fill="none" stroke="#75706a" stroke-width="1.8"/><path d="M-15,1018.1 Q0,1015.6 15,1014.6" fill="none" stroke="#e2ddd2" stroke-width="1.2" opacity="0.7"/><path d="M17.5,1016.4 L21,1019.9 L17.5,1023.4 Z" fill="#6f6a61"/><path d="M-17.5,1020.4 L-20.5,1023.9 L-17.5,1027.4 Z" fill="#6f6a61"/><path d="M-17.5,1023.9 Q0,1020.9 17.5,1019.9" fill="none" stroke="#75706a" stroke-width="1.8"/><path d="M-15,1026.4 Q0,1023.9 15,1022.9" fill="none" stroke="#e2ddd2" stroke-width="1.2" opacity="0.7"/><path d="M17.5,1024.7 L21,1028.2 L17.5,1031.7 Z" fill="#6f6a61"/><path d="M-17.5,1028.7 L-20.5,1032.2 L-17.5,1035.7 Z" fill="#6f6a61"/><path d="M-17.5,1032.2 Q0,1029.2 17.5,1028.2" fill="none" stroke="#75706a" stroke-width="1.8"/><path d="M-15,1034.7 Q0,1032.2 15,1031.2" fill="none" stroke="#e2ddd2" stroke-width="1.2" opacity="0.7"/><path d="M-17,907 Q0,903 17,907 L17,910 Q0,906 -17,910 Z" fill="#cfcac0"/><path d="M-18,1033 Q-21,1041 -29,1047 L-44,1061 Q-47,1066 -42,1068 Q0,1075 42,1068 Q47,1066 44,1061 L29,1047 Q21,1041 18,1033 Z" fill="url(#boltHead)"/><ellipse cx="2" cy="1040" rx="15" ry="4.5" fill="#ddd8cd" opacity="0.4"/><path d="M14,1042 L34,1062" stroke="#e0dbd0" stroke-width="4" opacity="0.3" stroke-linecap="round"/><path d="M-43,1065 Q0,1074 43,1065" fill="none" stroke="#d6d1c6" stroke-width="2.2"/></g><g transform="translate(715,0)"><rect x="-17.5" y="907" width="35" height="130" fill="url(#boltShaft)"/><path d="M17.5,908.5 L21,912.0 L17.5,915.5 Z" fill="#6f6a61"/><path d="M-17.5,912.5 L-20.5,916.0 L-17.5,919.5 Z" fill="#6f6a61"/><path d="M-17.5,916.0 Q0,913.0 17.5,912.0" fill="none" stroke="#75706a" stroke-width="1.8"/><path d="M-15,918.5 Q0,916.0 15,915.0" fill="none" stroke="#e2ddd2" stroke-width="1.2" opacity="0.7"/><path d="M17.5,916.8 L21,920.3 L17.5,923.8 Z" fill="#6f6a61"/><path d="M-17.5,920.8 L-20.5,924.3 L-17.5,927.8 Z" fill="#6f6a61"/><path d="M-17.5,924.3 Q0,921.3 17.5,920.3" fill="none" stroke="#75706a" stroke-width="1.8"/><path d="M-15,926.8 Q0,924.3 15,923.3" fill="none" stroke="#e2ddd2" stroke-width="1.2" opacity="0.7"/><path d="M17.5,925.1 L21,928.6 L17.5,932.1 Z" fill="#6f6a61"/><path d="M-17.5,929.1 L-20.5,932.6 L-17.5,936.1 Z" fill="#6f6a61"/><path d="M-17.5,932.6 Q0,929.6 17.5,928.6" fill="none" stroke="#75706a" stroke-width="1.8"/><path d="M-15,935.1 Q0,932.6 15,931.6" fill="none" stroke="#e2ddd2" stroke-width="1.2" opacity="0.7"/><path d="M17.5,933.4 L21,936.9 L17.5,940.4 Z" fill="#6f6a61"/><path d="M-17.5,937.4 L-20.5,940.9 L-17.5,944.4 Z" fill="#6f6a61"/><path d="M-17.5,940.9 Q0,937.9 17.5,936.9" fill="none" stroke="#75706a" stroke-width="1.8"/><path d="M-15,943.4 Q0,940.9 15,939.9" fill="none" stroke="#e2ddd2" stroke-width="1.2" opacity="0.7"/><path d="M17.5,941.7 L21,945.2 L17.5,948.7 Z" fill="#6f6a61"/><path d="M-17.5,945.7 L-20.5,949.2 L-17.5,952.7 Z" fill="#6f6a61"/><path d="M-17.5,949.2 Q0,946.2 17.5,945.2" fill="none" stroke="#75706a" stroke-width="1.8"/><path d="M-15,951.7 Q0,949.2 15,948.2" fill="none" stroke="#e2ddd2" stroke-width="1.2" opacity="0.7"/><path d="M17.5,950.0 L21,953.5 L17.5,957.0 Z" fill="#6f6a61"/><path d="M-17.5,954.0 L-20.5,957.5 L-17.5,961.0 Z" fill="#6f6a61"/><path d="M-17.5,957.5 Q0,954.5 17.5,953.5" fill="none" stroke="#75706a" stroke-width="1.8"/><path d="M-15,960.0 Q0,957.5 15,956.5" fill="none" stroke="#e2ddd2" stroke-width="1.2" opacity="0.7"/><path d="M17.5,958.3 L21,961.8 L17.5,965.3 Z" fill="#6f6a61"/><path d="M-17.5,962.3 L-20.5,965.8 L-17.5,969.3 Z" fill="#6f6a61"/><path d="M-17.5,965.8 Q0,962.8 17.5,961.8" fill="none" stroke="#75706a" stroke-width="1.8"/><path d="M-15,968.3 Q0,965.8 15,964.8" fill="none" stroke="#e2ddd2" stroke-width="1.2" opacity="0.7"/><path d="M17.5,966.6 L21,970.1 L17.5,973.6 Z" fill="#6f6a61"/><path d="M-17.5,970.6 L-20.5,974.1 L-17.5,977.6 Z" fill="#6f6a61"/><path d="M-17.5,974.1 Q0,971.1 17.5,970.1" fill="none" stroke="#75706a" stroke-width="1.8"/><path d="M-15,976.6 Q0,974.1 15,973.1" fill="none" stroke="#e2ddd2" stroke-width="1.2" opacity="0.7"/><path d="M17.5,974.9 L21,978.4 L17.5,981.9 Z" fill="#6f6a61"/><path d="M-17.5,978.9 L-20.5,982.4 L-17.5,985.9 Z" fill="#6f6a61"/><path d="M-17.5,982.4 Q0,979.4 17.5,978.4" fill="none" stroke="#75706a" stroke-width="1.8"/><path d="M-15,984.9 Q0,982.4 15,981.4" fill="none" stroke="#e2ddd2" stroke-width="1.2" opacity="0.7"/><path d="M17.5,983.2 L21,986.7 L17.5,990.2 Z" fill="#6f6a61"/><path d="M-17.5,987.2 L-20.5,990.7 L-17.5,994.2 Z" fill="#6f6a61"/><path d="M-17.5,990.7 Q0,987.7 17.5,986.7" fill="none" stroke="#75706a" stroke-width="1.8"/><path d="M-15,993.2 Q0,990.7 15,989.7" fill="none" stroke="#e2ddd2" stroke-width="1.2" opacity="0.7"/><path d="M17.5,991.5 L21,995.0 L17.5,998.5 Z" fill="#6f6a61"/><path d="M-17.5,995.5 L-20.5,999.0 L-17.5,1002.5 Z" fill="#6f6a61"/><path d="M-17.5,999.0 Q0,996.0 17.5,995.0" fill="none" stroke="#75706a" stroke-width="1.8"/><path d="M-15,1001.5 Q0,999.0 15,998.0" fill="none" stroke="#e2ddd2" stroke-width="1.2" opacity="0.7"/><path d="M17.5,999.8 L21,1003.3 L17.5,1006.8 Z" fill="#6f6a61"/><path d="M-17.5,1003.8 L-20.5,1007.3 L-17.5,1010.8 Z" fill="#6f6a61"/><path d="M-17.5,1007.3 Q0,1004.3 17.5,1003.3" fill="none" stroke="#75706a" stroke-width="1.8"/><path d="M-15,1009.8 Q0,1007.3 15,1006.3" fill="none" stroke="#e2ddd2" stroke-width="1.2" opacity="0.7"/><path d="M17.5,1008.1 L21,1011.6 L17.5,1015.1 Z" fill="#6f6a61"/><path d="M-17.5,1012.1 L-20.5,1015.6 L-17.5,1019.1 Z" fill="#6f6a61"/><path d="M-17.5,1015.6 Q0,1012.6 17.5,1011.6" fill="none" stroke="#75706a" stroke-width="1.8"/><path d="M-15,1018.1 Q0,1015.6 15,1014.6" fill="none" stroke="#e2ddd2" stroke-width="1.2" opacity="0.7"/><path d="M17.5,1016.4 L21,1019.9 L17.5,1023.4 Z" fill="#6f6a61"/><path d="M-17.5,1020.4 L-20.5,1023.9 L-17.5,1027.4 Z" fill="#6f6a61"/><path d="M-17.5,1023.9 Q0,1020.9 17.5,1019.9" fill="none" stroke="#75706a" stroke-width="1.8"/><path d="M-15,1026.4 Q0,1023.9 15,1022.9" fill="none" stroke="#e2ddd2" stroke-width="1.2" opacity="0.7"/><path d="M17.5,1024.7 L21,1028.2 L17.5,1031.7 Z" fill="#6f6a61"/><path d="M-17.5,1028.7 L-20.5,1032.2 L-17.5,1035.7 Z" fill="#6f6a61"/><path d="M-17.5,1032.2 Q0,1029.2 17.5,1028.2" fill="none" stroke="#75706a" stroke-width="1.8"/><path d="M-15,1034.7 Q0,1032.2 15,1031.2" fill="none" stroke="#e2ddd2" stroke-width="1.2" opacity="0.7"/><path d="M-17,907 Q0,903 17,907 L17,910 Q0,906 -17,910 Z" fill="#cfcac0"/><path d="M-18,1033 Q-21,1041 -29,1047 L-44,1061 Q-47,1066 -42,1068 Q0,1075 42,1068 Q47,1066 44,1061 L29,1047 Q21,1041 18,1033 Z" fill="url(#boltHead)"/><ellipse cx="2" cy="1040" rx="15" ry="4.5" fill="#ddd8cd" opacity="0.4"/><path d="M14,1042 L34,1062" stroke="#e0dbd0" stroke-width="4" opacity="0.3" stroke-linecap="round"/><path d="M-43,1065 Q0,1074 43,1065" fill="none" stroke="#d6d1c6" stroke-width="2.2"/></g><ellipse cx="179.8" cy="1272.5" rx="108" ry="104" fill="none" stroke="#141414" stroke-width="22"/><ellipse cx="179.8" cy="1272.5" rx="108" ry="104" fill="none" stroke="#262626" stroke-width="18.5"/><ellipse cx="179.3" cy="1272" rx="109.5" ry="105.5" fill="none" stroke="#333" stroke-width="5" opacity="0.8"/><ellipse cx="269.5" cy="1272.5" rx="108" ry="104" fill="none" stroke="#141414" stroke-width="22"/><ellipse cx="269.5" cy="1272.5" rx="108" ry="104" fill="none" stroke="#262626" stroke-width="18.5"/><ellipse cx="269.0" cy="1272" rx="109.5" ry="105.5" fill="none" stroke="#333" stroke-width="5" opacity="0.8"/><ellipse cx="380.9" cy="1272.5" rx="108" ry="104" fill="none" stroke="#141414" stroke-width="22"/><ellipse cx="380.9" cy="1272.5" rx="108" ry="104" fill="none" stroke="#262626" stroke-width="18.5"/><ellipse cx="380.4" cy="1272" rx="109.5" ry="105.5" fill="none" stroke="#333" stroke-width="5" opacity="0.8"/><ellipse cx="474" cy="1272.5" rx="108" ry="104" fill="none" stroke="#141414" stroke-width="22"/><ellipse cx="474" cy="1272.5" rx="108" ry="104" fill="none" stroke="#262626" stroke-width="18.5"/><ellipse cx="473.5" cy="1272" rx="109.5" ry="105.5" fill="none" stroke="#333" stroke-width="5" opacity="0.8"/><ellipse cx="571.8" cy="1272.5" rx="108" ry="104" fill="none" stroke="#141414" stroke-width="22"/><ellipse cx="571.8" cy="1272.5" rx="108" ry="104" fill="none" stroke="#262626" stroke-width="18.5"/><ellipse cx="571.3" cy="1272" rx="109.5" ry="105.5" fill="none" stroke="#333" stroke-width="5" opacity="0.8"/><ellipse cx="674" cy="1272.5" rx="108" ry="104" fill="none" stroke="#141414" stroke-width="22"/><ellipse cx="674" cy="1272.5" rx="108" ry="104" fill="none" stroke="#262626" stroke-width="18.5"/><ellipse cx="673.5" cy="1272" rx="109.5" ry="105.5" fill="none" stroke="#333" stroke-width="5" opacity="0.8"/><ellipse cx="767" cy="1272.5" rx="108" ry="104" fill="none" stroke="#141414" stroke-width="22"/><ellipse cx="767" cy="1272.5" rx="108" ry="104" fill="none" stroke="#262626" stroke-width="18.5"/><ellipse cx="766.5" cy="1272" rx="109.5" ry="105.5" fill="none" stroke="#333" stroke-width="5" opacity="0.8"/><ellipse cx="856.8" cy="1272.5" rx="108" ry="104" fill="none" stroke="#141414" stroke-width="22"/><ellipse cx="856.8" cy="1272.5" rx="108" ry="104" fill="none" stroke="#262626" stroke-width="18.5"/><ellipse cx="856.3" cy="1272" rx="109.5" ry="105.5" fill="none" stroke="#333" stroke-width="5" opacity="0.8"/><ellipse cx="967.7" cy="1272.5" rx="108" ry="104" fill="none" stroke="#141414" stroke-width="22"/><ellipse cx="967.7" cy="1272.5" rx="108" ry="104" fill="none" stroke="#262626" stroke-width="18.5"/><ellipse cx="967.2" cy="1272" rx="109.5" ry="105.5" fill="none" stroke="#333" stroke-width="5" opacity="0.8"/><ellipse cx="1059.8" cy="1272.5" rx="108" ry="104" fill="none" stroke="#141414" stroke-width="22"/><ellipse cx="1059.8" cy="1272.5" rx="108" ry="104" fill="none" stroke="#262626" stroke-width="18.5"/><ellipse cx="1059.3" cy="1272" rx="109.5" ry="105.5" fill="none" stroke="#333" stroke-width="5" opacity="0.8"/><ellipse cx="1158.1" cy="1272.5" rx="108" ry="104" fill="none" stroke="#141414" stroke-width="22"/><ellipse cx="1158.1" cy="1272.5" rx="108" ry="104" fill="none" stroke="#262626" stroke-width="18.5"/><ellipse cx="1157.6" cy="1272" rx="109.5" ry="105.5" fill="none" stroke="#333" stroke-width="5" opacity="0.8"/><ellipse cx="1260.9" cy="1272.5" rx="108" ry="104" fill="none" stroke="#141414" stroke-width="22"/><ellipse cx="1260.9" cy="1272.5" rx="108" ry="104" fill="none" stroke="#262626" stroke-width="18.5"/><ellipse cx="1260.4" cy="1272" rx="109.5" ry="105.5" fill="none" stroke="#333" stroke-width="5" opacity="0.8"/><rect x="1011" y="95" width="38" height="379" fill="url(#strandV)"/><rect x="1131" y="95" width="41" height="379" fill="url(#strandV)"/><line x1="1289.6" y1="130" x2="1416.7" y2="440" stroke="#0f0f0f" stroke-width="35" stroke-linecap="round"/><line x1="1288.1" y1="134" x2="1415.2" y2="436" stroke="#1e1e1e" stroke-width="24" stroke-linecap="round"/><line x1="1286.6" y1="138" x2="1413.7" y2="432" stroke="#303030" stroke-width="10" stroke-linecap="round"/><line x1="1415.6" y1="130" x2="1288.5" y2="440" stroke="#111" stroke-width="35" stroke-linecap="round"/><line x1="1414.1" y1="134" x2="1287.0" y2="436" stroke="#202020" stroke-width="24" stroke-linecap="round"/><line x1="1412.6" y1="138" x2="1285.5" y2="432" stroke="#343434" stroke-width="10" stroke-linecap="round"/><ellipse cx="1086.6" cy="95" rx="91.5" ry="91.5" fill="url(#discFace)" stroke="#141414" stroke-width="2"/><circle cx="1086.3" cy="94.5" r="57.5" fill="#0e0e0e" stroke="#4a4a4a" stroke-width="1.5"/><path d="M1142.8,102.5 A56.5,56.5 0 0,1 1066.3,148.0" fill="none" stroke="#6a6a6a" stroke-width="1.5" opacity="0.7"/><circle cx="1086.6" cy="95.6" r="40.7" fill="url(#head)"/><polygon points="1079.3,75.7 1100.2,79.4 1107.5,99.3 1093.9,115.5 1073.0,111.8 1065.7,91.9" fill="none" stroke="#ebebeb" stroke-width="1.6" stroke-linejoin="round"/><circle cx="1086.6" cy="95.6" r="39.7" fill="none" stroke="#d8d8d8" stroke-width="1.5"/><polygon points="1080.1,77.7 1098.8,81.0 1105.3,98.9 1093.1,113.5 1074.4,110.2 1067.9,92.3" fill="url(#socket)" stroke="#2f2d29" stroke-width="2.2" stroke-linejoin="round"/><circle cx="1086.6" cy="95.6" r="1.8" fill="#333"/><ellipse cx="1094" cy="474" rx="91.5" ry="89.5" fill="url(#discFace)" stroke="#141414" stroke-width="2"/><circle cx="1094" cy="476" r="57" fill="#0e0e0e" stroke="#4a4a4a" stroke-width="1.5"/><path d="M1150,484 A56,56 0 0,1 1074,529" fill="none" stroke="#6a6a6a" stroke-width="1.5" opacity="0.7"/><circle cx="1094.6" cy="478" r="40" fill="url(#head)"/><polygon points="1087.3,458.1 1108.2,461.8 1115.5,481.7 1101.9,497.9 1081.0,494.2 1073.7,474.3" fill="none" stroke="#ebebeb" stroke-width="1.6" stroke-linejoin="round"/><circle cx="1094.6" cy="478" r="39" fill="none" stroke="#d8d8d8" stroke-width="1.5"/><polygon points="1088.1,460.1 1106.8,463.4 1113.3,481.3 1101.1,495.9 1082.4,492.6 1075.9,474.7" fill="url(#socket)" stroke="#2f2d29" stroke-width="2.2" stroke-linejoin="round"/><circle cx="1094.6" cy="478" r="1.8" fill="#333"/><ellipse cx="1352.7" cy="93.4" rx="89" ry="89" fill="url(#discFace)" stroke="#141414" stroke-width="2"/><circle cx="1352" cy="93.5" r="56" fill="#0e0e0e" stroke="#4a4a4a" stroke-width="1.5"/><path d="M1407,101.5 A55,55 0 0,1 1332,145.5" fill="none" stroke="#6a6a6a" stroke-width="1.5" opacity="0.7"/><circle cx="1352.8" cy="94.5" r="39" fill="url(#head)"/><polygon points="1345.6,74.8 1366.3,78.4 1373.5,98.1 1360.0,114.2 1339.3,110.6 1332.1,90.9" fill="none" stroke="#ebebeb" stroke-width="1.6" stroke-linejoin="round"/><circle cx="1352.8" cy="94.5" r="38" fill="none" stroke="#d8d8d8" stroke-width="1.5"/><polygon points="1346.4,76.8 1364.9,80.1 1371.3,97.8 1359.2,112.2 1340.7,108.9 1334.3,91.2" fill="url(#socket)" stroke="#2f2d29" stroke-width="2.2" stroke-linejoin="round"/><circle cx="1352.8" cy="94.5" r="1.8" fill="#333"/><ellipse cx="1353" cy="472.6" rx="87.5" ry="89" fill="url(#discFace)" stroke="#141414" stroke-width="2"/><circle cx="1353" cy="474" r="56" fill="#0e0e0e" stroke="#4a4a4a" stroke-width="1.5"/><path d="M1408,482 A55,55 0 0,1 1333,526" fill="none" stroke="#6a6a6a" stroke-width="1.5" opacity="0.7"/><circle cx="1351.5" cy="474" r="38" fill="url(#head)"/><polygon points="1344.3,454.3 1365.0,457.9 1372.2,477.6 1358.7,493.7 1338.0,490.1 1330.8,470.4" fill="none" stroke="#ebebeb" stroke-width="1.6" stroke-linejoin="round"/><circle cx="1351.5" cy="474" r="37" fill="none" stroke="#d8d8d8" stroke-width="1.5"/><polygon points="1345.1,456.3 1363.6,459.6 1370.0,477.3 1357.9,491.7 1339.4,488.4 1333.0,470.7" fill="url(#socket)" stroke="#2f2d29" stroke-width="2.2" stroke-linejoin="round"/><circle cx="1351.5" cy="474" r="1.8" fill="#333"/>
</svg>
</body></html>
